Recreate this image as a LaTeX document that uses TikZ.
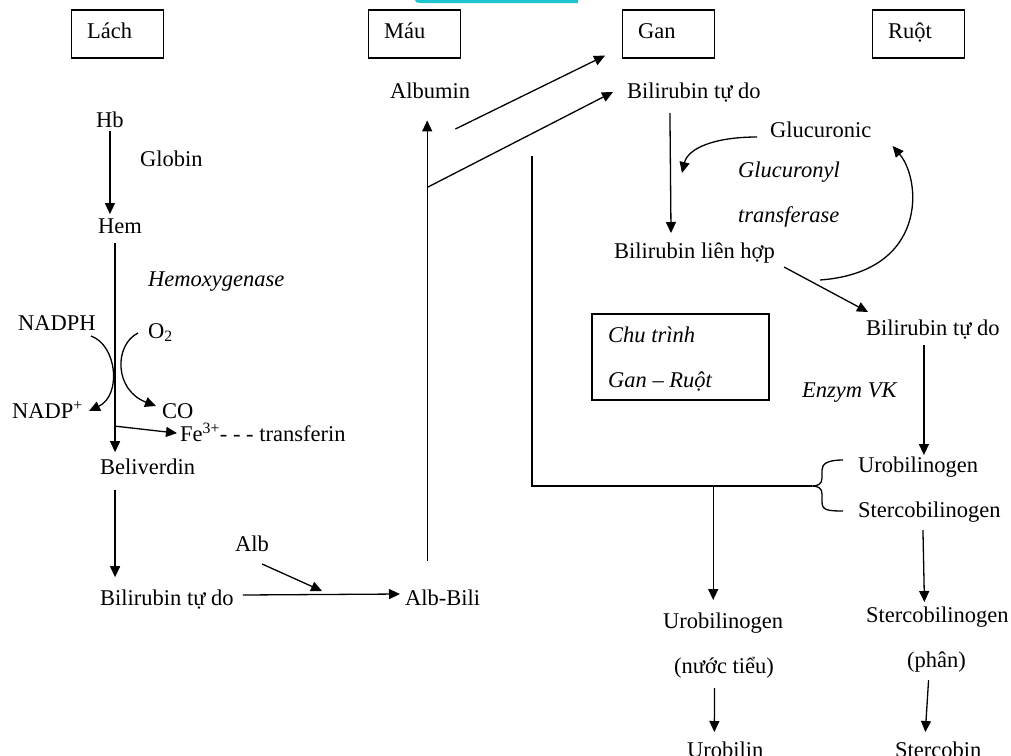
\documentclass[tikz,border=0pt]{standalone}
\usepackage{fontspec}
\setmainfont{Liberation Serif}
\usetikzlibrary{arrows.meta,calc}
\definecolor{tabcyan}{RGB}{30,196,208}
\begin{document}
\begin{tikzpicture}[x=1pt,y=-1pt,
  txt/.style={anchor=base west,inner sep=0pt,font=\fontsize{22.5}{27}\selectfont},
  itx/.style={anchor=base west,inner sep=0pt,font=\fontsize{22.5}{27}\selectfont\itshape},
  hbox/.style={draw,line width=1.3pt,anchor=west,font=\fontsize{22.5}{27}\selectfont,
    text width=61pt,align=left,inner xsep=15.5pt,inner ysep=0pt,
    minimum height=48pt,text height=14pt,text depth=6pt},
  ln/.style={line width=1.3pt},
  arr/.style={line width=1.3pt,-{Triangle[length=11pt,width=10pt]}}]
\useasboundingbox (0,0) rectangle (1011,755);
\fill[tabcyan] (415,0) -- (578,0) -- (578,3) -- (420,3) .. controls (417,3) and (415,2) .. cycle;

% header boxes
\node[hbox] (lach) at (71,34) {Lách};
\node[hbox] (mau) at (368,34) {Máu};
\node[hbox] (gan) at (622,34) {Gan};
\node[hbox] (ruot) at (872,34) {Ruột};

% left column
\node[txt] (hb) at (96,127) {Hb};
\node[txt] (globin) at (140,166) {Globin};
\node[txt] (hem) at (98,233) {Hem};
\node[itx] (hemox) at (148,286) {Hemoxygenase};
\node[txt] (nadph) at (18,330) {NADPH};
\node[txt] (o2) at (148,338) {O\textsubscript{2}};
\node[txt] (nadp) at (12,418) {NADP\textsuperscript{+}};
\node[txt] (co) at (162,418) {CO};
\node[txt] (fe) at (180,441) {Fe\textsuperscript{3+}- - - transferin};
\node[txt] (beliv) at (100,474) {Beliverdin};
\node[txt] (bil1) at (100,605) {Bilirubin tự do};
\node[txt] (alb) at (235,551) {Alb};
\node[txt] (albbili) at (405,605) {Alb-Bili};
\node[txt] (albumin) at (390,98) {Albumin};

% liver / intestine
\node[txt] (bil2) at (627,98) {Bilirubin tự do};
\node[txt] (glucuronic) at (770,137) {Glucuronic};
\node[itx] (glucuronyl) at (738,177) {Glucuronyl};
\node[itx] (transferase) at (738,222) {transferase};
\node[txt] (bilLH) at (614,258) {Bilirubin liên hợp};
\node[txt] (bil3) at (866,335) {Bilirubin tự do};
\node[itx] (enzym) at (802,397) {Enzym VK};
\node[draw,ln,minimum width=177pt,minimum height=86pt,inner sep=0pt] (chubox) at (680.5,357) {};
\node[itx] (chu1) at (608,342) {Chu trình};
\node[itx] (chu2) at (608,387) {Gan – Ruột};
\node[txt] (uro1) at (858,472) {Urobilinogen};
\node[txt] (sterco1) at (858,517) {Stercobilinogen};
\node[txt] (uro2) at (663,628) {Urobilinogen};
\node[txt] (nuoc) at (674,673) {(nước tiểu)};
\node[txt] (urobilin) at (687,757) {Urobilin};
\node[txt] (sterco2) at (866,622) {Stercobilinogen};
\node[txt] (phan) at (907,667) {(phân)};
\node[txt] (stercobin) at (895,757) {Stercobin};

% connectors left
\draw[arr] ($(hb.south)+(0,4)$) -- ($(hb.south |- hem.north)+(0,-4)$);
\coordinate (mainTop) at ($(hem.south)+(-5,10)$);
\draw[arr] (mainTop) -- ($(mainTop |- beliv.north)+(0,-6)$);
\draw[arr] ($(mainTop |- fe.west)+(0,-6)$) -- ($(fe.west)+(-3,1)$);
\draw[arr] ($(nadph.base east)+(-5,6)$) .. controls +(26,9) and +(33,-16) .. ($(nadp.base east)+(6,-7)$);
\draw[arr] ($(o2.base west)+(-10,-5)$) .. controls +(-24,12) and +(-42,-16) .. ($(co.base west)+(-6,-12)$);
\draw[arr] ($(mainTop |- beliv.south)+(0,16)$) -- ($(mainTop |- bil1.north)+(0,-12)$);
\draw[arr] ($(bil1.base east)+(9,-10)$) -- ($(albbili.base west)+(-5,-11)$);
\draw[arr] ($(alb.base)+(10,13)$) -- ($(alb.base)+(70,40)$);
\coordinate (vtip) at ($(albumin.south)+(-3,22)$);
\draw[arr] ($(vtip |- albbili.north)+(0,-28)$) -- (vtip);
\draw[arr] ($(vtip)+(0,67)$) -- ($(bil2.base west)+(-14,-6)$);
\draw[arr] ($(albumin.base east)+(-15,31)$) -- ($(gan.south west)+(-17,-3)$);

% connectors liver
\draw[arr] ($(bil2.base)+(-24,15)$) -- ($(bilLH.base)+(-23.5,-25)$);
\draw[arr] ($(glucuronic.base west)+(-13,0)$) .. controls +(-42,0) and +(6,-25) .. ($(glucuronic.base west)+(-88,36)$);
\draw[arr] ($(bilLH.base east)+(45,22)$) .. controls +(108,-8) and +(29,34) .. ($(glucuronic.base east)+(21,9)$);
\draw[arr] ($(bilLH.base east)+(9,9)$) -- ($(bil3.base west)+(2,-23)$);
\draw[arr] ($(bil3.base)+(-9,10)$) -- ($(bil3.base |- uro1.base)+(-9,-17)$);

% brace
\coordinate (bp) at ($(uro1.base west)+(-46,14)$);
\draw[ln] ($(uro1.base west)+(-15,-12)$) .. controls +(-16,0) and +(0,-6) .. ($(uro1.base west)+(-36,-2)$) -- ($(uro1.base west)+(-36,6)$) .. controls +(0,6) and +(6,0) .. (bp)
  .. controls +(6,0) and +(0,-6) .. ($(sterco1.base west)+(-36,-23)$) -- ($(sterco1.base west)+(-36,-15)$) .. controls +(0,8) and +(-16,0) .. ($(sterco1.base west)+(-15,-6)$);
\draw[ln] (bp) -| ($(bil2.base west)+(-95,58)$);
\coordinate (utip) at ($(uro2.base)+(-10,-28)$);
\draw[arr] (bp -| utip) -- (utip);
\draw[arr] ($(nuoc.base)+(-9.5,15)$) -- ($(urobilin.base)+(-11,-25)$);
\draw[arr] ($(sterco1.base)+(-6.5,13)$) -- ($(sterco2.base)+(-13,-20)$);
\draw[arr] ($(phan.base)+(-8,13)$) -- ($(stercobin.base)+(-13,-25)$);
\end{tikzpicture}
\end{document}
